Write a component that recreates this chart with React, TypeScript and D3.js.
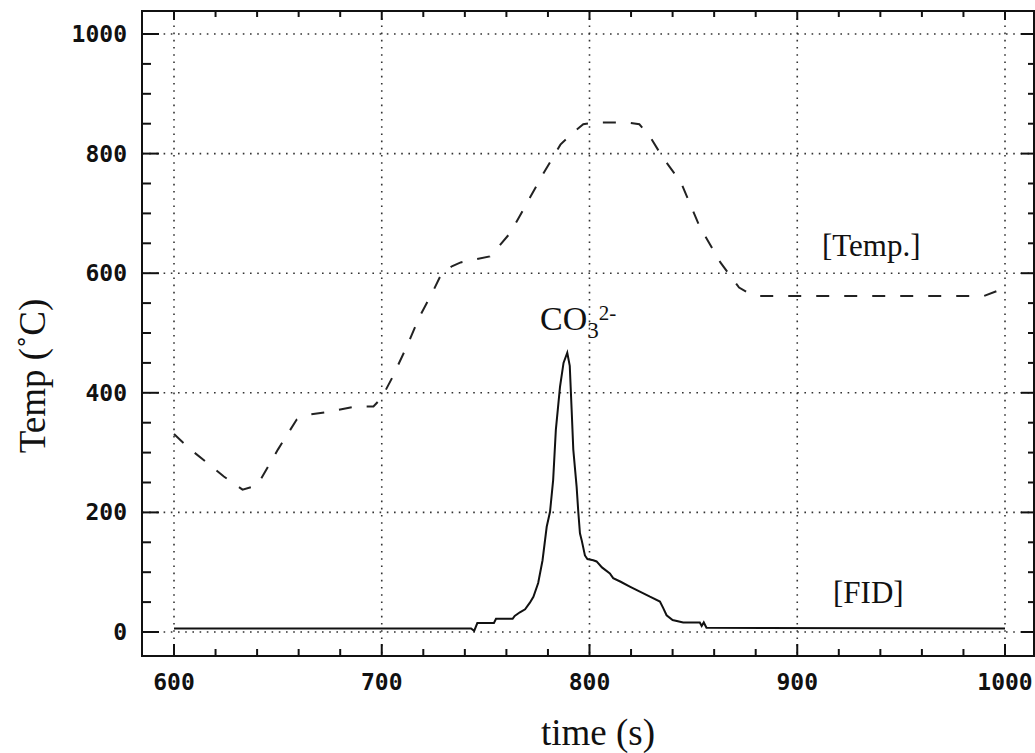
import React, { useEffect, useRef } from 'react';
import * as d3 from 'd3';

// axis ticks
const timeTicks = [600, 700, 800, 900, 1000];
const tempTicks = [0, 200, 400, 600, 800, 1000];

// temperature trace (dashed)
const tempTime = [600, 608, 616, 624, 633, 640, 650, 659, 666, 674, 687, 696, 700, 705, 712, 718, 725, 729, 734, 738, 742, 752, 755, 762, 770, 778, 786, 792, 797, 802, 818, 824, 829, 835, 844, 853, 863, 872, 877, 881, 990, 996, 1000];
const tempValue = [331, 305, 283, 260, 238, 245, 305, 355, 364, 368, 377, 377, 392, 425, 477, 526, 572, 601, 612, 618, 621, 628, 639, 668, 718, 768, 815, 835, 849, 852, 852, 849, 829, 795, 752, 678, 618, 576, 566, 562, 562, 570, 580];

// FID trace (solid)
const fidTime = [600, 743, 744.5, 746, 754, 755, 763, 764, 766.5, 769, 771.3, 773, 775.3, 777.4, 779.4, 781, 782.5, 783.8, 785.8, 787.5, 789.3, 790.5, 791.4, 792.2, 793.8, 794.6, 795.4, 796.2, 797.8, 799, 801.8, 803.4, 806, 809.8, 811.4, 815, 819.4, 824, 829.1, 833.9, 835.5, 837.1, 840, 845.1, 853.1, 854, 855, 856.3, 1000];
const fidValue = [6, 6, 2, 15, 15, 22, 22, 27, 33, 38, 49, 59, 82, 120, 176, 201, 254, 338, 410, 450, 467, 445, 372, 305, 243, 201, 165, 154, 128, 122, 120, 118, 108, 98, 90, 84, 76, 68, 59, 51, 40, 28, 20, 16, 16, 10, 16, 7, 6];

const W = 1035;
const H = 753;
const frame = { left: 142, right: 1034, top: 11, bottom: 656 };

const App: React.FC = () => {
  const svgRef = useRef<SVGSVGElement>(null);

  useEffect(() => {
    if (!svgRef.current) return;
    const svg = d3.select(svgRef.current);
    svg.selectAll('*').remove();

    const x = d3.scaleLinear().domain([600, 1000]).range([174, 1005]);
    const y = d3.scaleLinear().domain([0, 1000]).range([632, 34]);

    const ink = '#111';
    const tickFont = "'DejaVu Sans Mono', monospace";
    const serif = "'Liberation Serif', 'Times New Roman', serif";

    // grid
    const grid = svg.append('g')
      .attr('stroke', '#333')
      .attr('stroke-width', 1.6)
      .attr('stroke-dasharray', '1.6,5.6');
    grid.selectAll('.gx').data(timeTicks).enter().append('line')
      .attr('x1', d => x(d)).attr('x2', d => x(d))
      .attr('y1', frame.top).attr('y2', frame.bottom);
    grid.selectAll('.gy').data(tempTicks).enter().append('line')
      .attr('y1', d => y(d)).attr('y2', d => y(d))
      .attr('x1', frame.left).attr('x2', frame.right);

    // ticks
    const minorX = d3.range(600, 1001, 20);
    const minorY = d3.range(0, 1001, 50);
    const ticks = svg.append('g').attr('stroke', ink).attr('stroke-width', 2);
    minorX.forEach(t => {
      const major = t % 100 === 0;
      ticks.append('line')
        .attr('x1', x(t)).attr('x2', x(t))
        .attr('y1', frame.bottom).attr('y2', frame.bottom - (major ? 12 : 7));
      ticks.append('line')
        .attr('x1', x(t)).attr('x2', x(t))
        .attr('y1', frame.top).attr('y2', frame.top + (major ? 9 : 6));
    });
    minorY.forEach(v => {
      const major = v % 200 === 0;
      ticks.append('line')
        .attr('y1', y(v)).attr('y2', y(v))
        .attr('x1', frame.left).attr('x2', frame.left + (major ? 17 : 9));
      ticks.append('line')
        .attr('y1', y(v)).attr('y2', y(v))
        .attr('x1', frame.right).attr('x2', frame.right - (major ? 13 : 6));
    });

    // frame
    svg.append('rect')
      .attr('x', frame.left).attr('y', frame.top)
      .attr('width', frame.right - frame.left).attr('height', frame.bottom - frame.top)
      .attr('fill', 'none').attr('stroke', ink).attr('stroke-width', 2);

    // tick labels
    svg.selectAll('.xl').data(timeTicks).enter().append('text')
      .attr('x', d => x(d)).attr('y', 690)
      .attr('text-anchor', 'middle')
      .attr('font-family', tickFont).attr('font-weight', 'bold').attr('font-size', 23)
      .attr('fill', ink)
      .text(d => d);
    svg.selectAll('.yl').data(tempTicks).enter().append('text')
      .attr('x', 127).attr('y', d => y(d) + 8)
      .attr('text-anchor', 'end')
      .attr('font-family', tickFont).attr('font-weight', 'bold').attr('font-size', 23)
      .attr('fill', ink)
      .text(d => d);

    // curves
    const tempLine = d3.line<number>()
      .x((_d, i) => x(tempTime[i]))
      .y(d => y(d));
    svg.append('path')
      .datum(tempValue)
      .attr('d', tempLine)
      .attr('fill', 'none').attr('stroke', '#222').attr('stroke-width', 2)
      .attr('stroke-dasharray', '13,15');

    const fidLine = d3.line<number>()
      .x((_d, i) => x(fidTime[i]))
      .y(d => y(d));
    svg.append('path')
      .datum(fidValue)
      .attr('d', fidLine)
      .attr('fill', 'none').attr('stroke', ink).attr('stroke-width', 2);

    // axis titles
    svg.append('text')
      .attr('x', 598).attr('y', 745)
      .attr('text-anchor', 'middle')
      .attr('font-family', serif).attr('font-size', 37).attr('fill', ink)
      .text('time (s)');
    svg.append('text')
      .attr('transform', 'translate(45,376) rotate(-90)')
      .attr('text-anchor', 'middle')
      .attr('font-family', serif).attr('font-size', 37).attr('fill', ink)
      .text('Temp (˚C)');

    // annotations
    const ann = svg.append('g')
      .attr('font-family', serif).attr('fill', ink);
    ann.append('text').attr('x', 822).attr('y', 256).attr('font-size', 31).text('[Temp.]');
    ann.append('text').attr('x', 833).attr('y', 603).attr('font-size', 31).text('[FID]');
    const co = ann.append('text').attr('x', 540).attr('y', 330).attr('font-size', 34);
    co.append('tspan').text('CO');
    co.append('tspan').attr('font-size', 23).attr('dy', 8).text('3');
    co.append('tspan').attr('font-size', 21).attr('dy', -18).text('2-');
  }, []);

  return (
    <svg
      ref={svgRef}
      width={W}
      height={H}
      style={{ position: 'absolute', left: 0, top: 0, background: '#fff' }}
    />
  );
};

export default App;
